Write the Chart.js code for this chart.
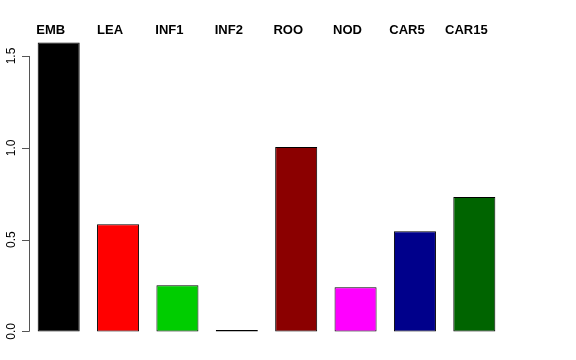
<!DOCTYPE html>
<html>
<head>
<meta charset="utf-8">
<script src="https://cdn.jsdelivr.net/npm/chart.js@4/dist/chart.umd.min.js"></script>
<style>
  html, body { margin: 0; padding: 0; background: #fff; }
  #wrap { width: 576px; height: 360px; }
</style>
</head>
<body>
<div id="wrap"><canvas id="barChart" width="576" height="360"></canvas></div>
<script>
const categories = ['EMB', 'LEA', 'INF1', 'INF2', 'ROO', 'NOD', 'CAR5', 'CAR15'];
const values = [1.573, 0.584, 0.251, 0.008, 1.005, 0.240, 0.546, 0.732];
const barColors = ['#000000', '#FF0000', '#00CD00', '#333333', '#8B0000', '#FF00FF', '#00008B', '#006400'];
const yTicks = [0, 0.5, 1.0, 1.5];
const yTickLabels = ['0.0', '0.5', '1.0', '1.5'];

// R-style axis on the left, only spanning the tick range
const rAxis = {
  id: 'rAxis',
  afterDraw(chart) {
    const ctx = chart.ctx;
    const y = chart.scales.y;
    const x0 = chart.chartArea.left;
    ctx.save();
    ctx.strokeStyle = '#555';
    ctx.lineWidth = 1;
    ctx.beginPath();
    ctx.moveTo(x0 + 0.5, y.getPixelForValue(yTicks[0]));
    ctx.lineTo(x0 + 0.5, y.getPixelForValue(yTicks[yTicks.length - 1]));
    yTicks.forEach(t => {
      const py = Math.round(y.getPixelForValue(t)) + 0.5;
      ctx.moveTo(x0 + 0.5, py);
      ctx.lineTo(x0 - 7, py);
    });
    ctx.stroke();
    ctx.fillStyle = '#000';
    ctx.font = '12px "Liberation Sans", Arial, sans-serif';
    ctx.textAlign = 'center';
    ctx.textBaseline = 'alphabetic';
    yTicks.forEach((t, i) => {
      ctx.save();
      ctx.translate(x0 - 14, y.getPixelForValue(t));
      ctx.rotate(-Math.PI / 2);
      ctx.fillText(yTickLabels[i], 0, 0);
      ctx.restore();
    });

    // category names along the top
    const meta = chart.getDatasetMeta(0);
    ctx.font = 'bold 13px "Liberation Sans", Arial, sans-serif';
    ctx.textAlign = 'center';
    meta.data.forEach((bar, i) => {
      ctx.fillText(categories[i], bar.x - 8, 34);
    });
    ctx.restore();
  }
};

new Chart(document.getElementById('barChart').getContext('2d'), {
  type: 'bar',
  data: {
    labels: categories,
    datasets: [{
      data: values,
      backgroundColor: barColors,
      borderColor: '#000',
      borderWidth: 1,
      borderSkipped: false,
      barPercentage: 0.708,
      categoryPercentage: 1.0
    }]
  },
  options: {
    responsive: false,
    animation: false,
    layout: { padding: { left: 29, right: 72, top: 31, bottom: 17 } },
    plugins: {
      legend: { display: false },
      tooltip: { enabled: false }
    },
    scales: {
      x: { display: false },
      y: { display: false, min: -0.063, max: 1.636 }
    }
  },
  plugins: [rAxis]
});
</script>
</body>
</html>
